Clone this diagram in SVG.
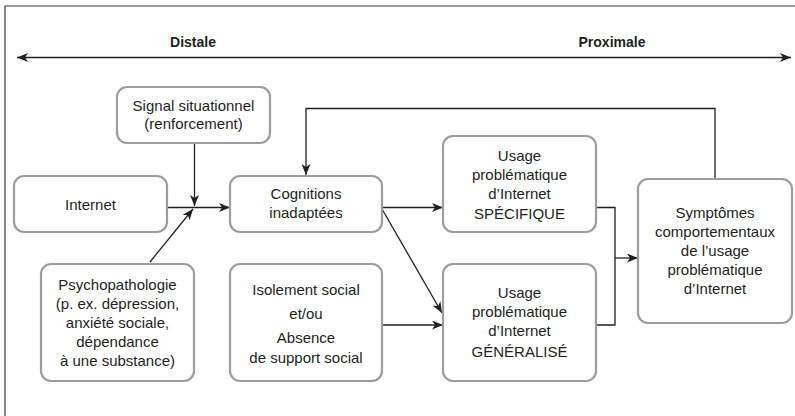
<svg xmlns="http://www.w3.org/2000/svg" width="795" height="416" viewBox="0 0 795 416">
<style>
.box{fill:#fff;stroke:#9d9d9d;stroke-width:2.2}
.t{font-family:"Liberation Sans",Arial,sans-serif;font-size:15px;fill:#231f20;text-anchor:middle}
.h{font-family:"Liberation Sans",Arial,sans-serif;font-size:14px;font-weight:bold;fill:#231f20;text-anchor:middle}
.ln{fill:none;stroke:#231f20;stroke-width:1.3}
</style>
<defs>
<marker id="ah" markerUnits="userSpaceOnUse" markerWidth="12" markerHeight="9" refX="11" refY="4.5" orient="auto">
<path d="M0,0 L11,4.5 L0,9 L3,4.5 z" fill="#231f20"/>
</marker>
<marker id="ahs" markerUnits="userSpaceOnUse" markerWidth="12" markerHeight="9" refX="11" refY="4.5" orient="auto-start-reverse">
<path d="M0,0 L11,4.5 L0,9 L3,4.5 z" fill="#231f20"/>
</marker>
</defs>
<rect width="795" height="416" fill="#fff"/>
<path d="M5,416 V6 H795" fill="none" stroke="#3a3a3a" stroke-width="1.2"/>
<g id="axis">
<line class="ln" x1="17" y1="57.5" x2="791" y2="57.5" marker-start="url(#ahs)" marker-end="url(#ah)"/>
<text class="h" x="193" y="47">Distale</text>
<text class="h" x="612" y="47">Proximale</text>
</g>
<g id="connectors">
<polyline class="ln" points="715,179 715,108.5 306,108.5 306,175" marker-end="url(#ah)"/>
<line class="ln" x1="194.5" y1="143" x2="194.5" y2="206" marker-end="url(#ah)"/>
<line class="ln" x1="167" y1="207.5" x2="230" y2="207.5" marker-end="url(#ah)"/>
<line class="ln" x1="150" y1="262" x2="193" y2="209" marker-end="url(#ah)"/>
<line class="ln" x1="382" y1="207.5" x2="443" y2="207.5" marker-end="url(#ah)"/>
<line class="ln" x1="382" y1="209" x2="442" y2="313" marker-end="url(#ah)"/>
<line class="ln" x1="382" y1="325" x2="443" y2="325" marker-end="url(#ah)"/>
<polyline class="ln" points="596,207.5 615,207.5 615,325 596,325"/>
<line class="ln" x1="615" y1="258" x2="638" y2="258" marker-end="url(#ah)"/>
</g>
<g id="signal">
<rect class="box" x="117" y="87" width="153" height="56" rx="10"/>
<text class="t" x="193.5" y="111">Signal situationnel</text>
<text class="t" x="193.5" y="129">(renforcement)</text>
</g>
<g id="internet">
<rect class="box" x="14" y="176" width="153" height="56" rx="10"/>
<text class="t" x="90.5" y="209.5">Internet</text>
</g>
<g id="cognitions">
<rect class="box" x="230" y="176" width="152" height="56" rx="10"/>
<text class="t" x="306" y="198.5">Cognitions</text>
<text class="t" x="306" y="217.5">inadaptées</text>
</g>
<g id="psychopathologie">
<rect class="box" x="41" y="264" width="153" height="117" rx="10"/>
<text class="t" x="117.5" y="289.5">Psychopathologie</text>
<text class="t" x="117.5" y="308.5">(p. ex. dépression,</text>
<text class="t" x="117.5" y="327.5">anxiété sociale,</text>
<text class="t" x="117.5" y="346.5">dépendance</text>
<text class="t" x="117.5" y="365.5">à une substance)</text>
</g>
<g id="isolement">
<rect class="box" x="230" y="264" width="152" height="117" rx="10"/>
<text class="t" x="306" y="295">Isolement social</text>
<text class="t" x="306" y="319">et/ou</text>
<text class="t" x="306" y="342.5">Absence</text>
<text class="t" x="306" y="362.5">de support social</text>
</g>
<g id="specifique">
<rect class="box" x="443" y="136" width="153" height="96" rx="10"/>
<text class="t" x="519.5" y="160.5">Usage</text>
<text class="t" x="519.5" y="180">problématique</text>
<text class="t" x="519.5" y="199">d’Internet</text>
<text class="t" x="519.5" y="219">SPÉCIFIQUE</text>
</g>
<g id="generalise">
<rect class="box" x="443" y="264" width="153" height="117" rx="10"/>
<text class="t" x="519.5" y="297.5">Usage</text>
<text class="t" x="519.5" y="316.5">problématique</text>
<text class="t" x="519.5" y="336">d’Internet</text>
<text class="t" x="519.5" y="357">GÉNÉRALISÉ</text>
</g>
<g id="symptomes">
<rect class="box" x="638" y="179" width="154" height="144" rx="10"/>
<text class="t" x="715" y="217.5">Symptômes</text>
<text class="t" x="715" y="236.5">comportementaux</text>
<text class="t" x="715" y="256">de l’usage</text>
<text class="t" x="715" y="275">problématique</text>
<text class="t" x="715" y="293.5">d’Internet</text>
</g>
</svg>
